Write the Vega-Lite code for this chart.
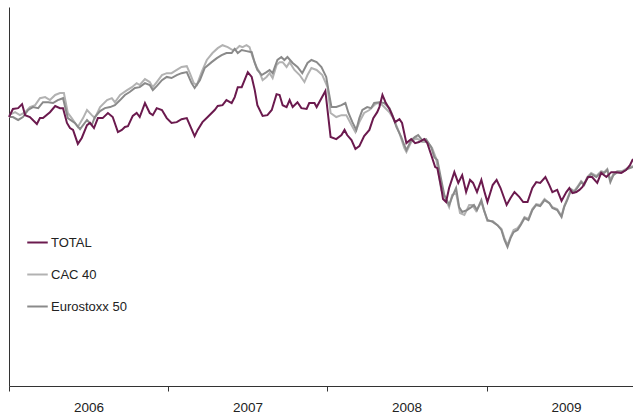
{
  "$schema": "https://vega.github.io/schema/vega-lite/v6.json",
  "width": 624,
  "height": 379,
  "autosize": "none",
  "padding": {"left": 9, "top": 7, "right": 0, "bottom": 28},
  "background": "white",
  "config": {"view": {"stroke": null}, "font": "Liberation Sans"},
  "data": {
    "format": {"parse": {"d": "date:'%Y-%j'"}},
    "values": [
      {"s":"CAC 40","d":"2006-001","v":100.7},{"s":"CAC 40","d":"2006-015","v":101.8},{"s":"CAC 40","d":"2006-026","v":100.7},{"s":"CAC 40","d":"2006-038","v":101.8},{"s":"CAC 40","d":"2006-049","v":103.7},{"s":"CAC 40","d":"2006-061","v":104.4},{"s":"CAC 40","d":"2006-072","v":107.0},{"s":"CAC 40","d":"2006-084","v":107.4},{"s":"CAC 40","d":"2006-095","v":106.3},{"s":"CAC 40","d":"2006-107","v":108.2},{"s":"CAC 40","d":"2006-118","v":108.9},{"s":"CAC 40","d":"2006-127","v":108.9},{"s":"CAC 40","d":"2006-136","v":101.5},{"s":"CAC 40","d":"2006-145","v":99.6},{"s":"CAC 40","d":"2006-159","v":96.3},{"s":"CAC 40","d":"2006-171","v":99.6},{"s":"CAC 40","d":"2006-180","v":102.6},{"s":"CAC 40","d":"2006-191","v":100.7},{"s":"CAC 40","d":"2006-198","v":99.6},{"s":"CAC 40","d":"2006-210","v":103.7},{"s":"CAC 40","d":"2006-226","v":106.3},{"s":"CAC 40","d":"2006-237","v":107.0},{"s":"CAC 40","d":"2006-244","v":105.5},{"s":"CAC 40","d":"2006-256","v":108.2},{"s":"CAC 40","d":"2006-272","v":110.0},{"s":"CAC 40","d":"2006-283","v":111.1},{"s":"CAC 40","d":"2006-294","v":112.6},{"s":"CAC 40","d":"2006-301","v":111.9},{"s":"CAC 40","d":"2006-313","v":114.1},{"s":"CAC 40","d":"2006-324","v":113.0},{"s":"CAC 40","d":"2006-331","v":111.1},{"s":"CAC 40","d":"2006-340","v":113.0},{"s":"CAC 40","d":"2006-352","v":115.6},{"s":"CAC 40","d":"2006-363","v":116.3},
      {"s":"CAC 40","d":"2007-009","v":116.3},{"s":"CAC 40","d":"2007-021","v":117.5},{"s":"CAC 40","d":"2007-032","v":118.6},{"s":"CAC 40","d":"2007-044","v":118.9},{"s":"CAC 40","d":"2007-051","v":116.3},{"s":"CAC 40","d":"2007-060","v":112.6},{"s":"CAC 40","d":"2007-067","v":111.9},{"s":"CAC 40","d":"2007-078","v":116.7},{"s":"CAC 40","d":"2007-090","v":121.2},{"s":"CAC 40","d":"2007-103","v":123.8},{"s":"CAC 40","d":"2007-115","v":125.6},{"s":"CAC 40","d":"2007-126","v":126.7},{"s":"CAC 40","d":"2007-138","v":126.0},{"s":"CAC 40","d":"2007-149","v":124.9},{"s":"CAC 40","d":"2007-158","v":125.3},{"s":"CAC 40","d":"2007-165","v":126.4},{"s":"CAC 40","d":"2007-172","v":126.0},{"s":"CAC 40","d":"2007-181","v":126.7},{"s":"CAC 40","d":"2007-188","v":126.0},{"s":"CAC 40","d":"2007-195","v":122.3},{"s":"CAC 40","d":"2007-204","v":118.6},{"s":"CAC 40","d":"2007-211","v":116.7},{"s":"CAC 40","d":"2007-218","v":113.7},{"s":"CAC 40","d":"2007-227","v":114.9},{"s":"CAC 40","d":"2007-234","v":116.3},{"s":"CAC 40","d":"2007-241","v":114.5},{"s":"CAC 40","d":"2007-250","v":119.3},{"s":"CAC 40","d":"2007-257","v":120.4},{"s":"CAC 40","d":"2007-264","v":120.4},{"s":"CAC 40","d":"2007-273","v":118.6},{"s":"CAC 40","d":"2007-280","v":120.4},{"s":"CAC 40","d":"2007-291","v":117.5},{"s":"CAC 40","d":"2007-303","v":115.6},{"s":"CAC 40","d":"2007-314","v":113.0},{"s":"CAC 40","d":"2007-321","v":115.6},{"s":"CAC 40","d":"2007-330","v":118.2},{"s":"CAC 40","d":"2007-342","v":117.5},{"s":"CAC 40","d":"2007-355","v":115.6},
      {"s":"CAC 40","d":"2008-002","v":111.1},{"s":"CAC 40","d":"2008-009","v":101.5},{"s":"CAC 40","d":"2008-022","v":100.0},{"s":"CAC 40","d":"2008-034","v":100.7},{"s":"CAC 40","d":"2008-045","v":100.7},{"s":"CAC 40","d":"2008-057","v":97.0},{"s":"CAC 40","d":"2008-066","v":94.4},{"s":"CAC 40","d":"2008-075","v":98.1},{"s":"CAC 40","d":"2008-086","v":101.5},{"s":"CAC 40","d":"2008-098","v":102.6},{"s":"CAC 40","d":"2008-109","v":104.4},{"s":"CAC 40","d":"2008-116","v":105.2},{"s":"CAC 40","d":"2008-128","v":104.4},{"s":"CAC 40","d":"2008-144","v":101.8},{"s":"CAC 40","d":"2008-155","v":98.9},{"s":"CAC 40","d":"2008-167","v":94.0},{"s":"CAC 40","d":"2008-178","v":88.5},{"s":"CAC 40","d":"2008-183","v":87.0},{"s":"CAC 40","d":"2008-194","v":90.7},{"s":"CAC 40","d":"2008-206","v":92.2},{"s":"CAC 40","d":"2008-219","v":90.7},{"s":"CAC 40","d":"2008-231","v":90.7},{"s":"CAC 40","d":"2008-242","v":88.5},{"s":"CAC 40","d":"2008-251","v":84.7},{"s":"CAC 40","d":"2008-263","v":72.9},{"s":"CAC 40","d":"2008-274","v":69.1},{"s":"CAC 40","d":"2008-281","v":66.5},{"s":"CAC 40","d":"2008-288","v":71.0},{"s":"CAC 40","d":"2008-297","v":71.7},{"s":"CAC 40","d":"2008-306","v":64.3},{"s":"CAC 40","d":"2008-316","v":63.6},{"s":"CAC 40","d":"2008-327","v":67.3},{"s":"CAC 40","d":"2008-334","v":67.3},{"s":"CAC 40","d":"2008-343","v":65.0},{"s":"CAC 40","d":"2008-355","v":68.4},{"s":"CAC 40","d":"2008-361","v":65.4},
      {"s":"CAC 40","d":"2009-003","v":61.3},{"s":"CAC 40","d":"2009-015","v":61.3},{"s":"CAC 40","d":"2009-026","v":59.8},{"s":"CAC 40","d":"2009-035","v":58.4},{"s":"CAC 40","d":"2009-042","v":55.0},{"s":"CAC 40","d":"2009-049","v":52.4},{"s":"CAC 40","d":"2009-056","v":55.4},{"s":"CAC 40","d":"2009-063","v":58.0},{"s":"CAC 40","d":"2009-072","v":58.7},{"s":"CAC 40","d":"2009-079","v":60.2},{"s":"CAC 40","d":"2009-088","v":62.8},{"s":"CAC 40","d":"2009-097","v":62.1},{"s":"CAC 40","d":"2009-106","v":65.8},{"s":"CAC 40","d":"2009-115","v":67.6},{"s":"CAC 40","d":"2009-124","v":67.3},{"s":"CAC 40","d":"2009-134","v":69.5},{"s":"CAC 40","d":"2009-145","v":68.0},{"s":"CAC 40","d":"2009-152","v":66.5},{"s":"CAC 40","d":"2009-163","v":65.8},{"s":"CAC 40","d":"2009-173","v":63.2},{"s":"CAC 40","d":"2009-179","v":66.9},{"s":"CAC 40","d":"2009-186","v":69.5},{"s":"CAC 40","d":"2009-195","v":73.2},{"s":"CAC 40","d":"2009-202","v":72.5},{"s":"CAC 40","d":"2009-209","v":74.0},{"s":"CAC 40","d":"2009-218","v":76.2},{"s":"CAC 40","d":"2009-225","v":75.1},{"s":"CAC 40","d":"2009-232","v":77.7},{"s":"CAC 40","d":"2009-241","v":79.2},{"s":"CAC 40","d":"2009-253","v":78.1},{"s":"CAC 40","d":"2009-264","v":79.9},{"s":"CAC 40","d":"2009-271","v":79.5},{"s":"CAC 40","d":"2009-278","v":80.7},{"s":"CAC 40","d":"2009-285","v":76.6},{"s":"CAC 40","d":"2009-292","v":78.8},{"s":"CAC 40","d":"2009-301","v":79.9},{"s":"CAC 40","d":"2009-312","v":79.9},{"s":"CAC 40","d":"2009-324","v":81.0},{"s":"CAC 40","d":"2009-337","v":81.8},
      {"s":"Eurostoxx 50","d":"2006-001","v":100.0},{"s":"Eurostoxx 50","d":"2006-010","v":100.0},{"s":"Eurostoxx 50","d":"2006-022","v":98.9},{"s":"Eurostoxx 50","d":"2006-033","v":100.0},{"s":"Eurostoxx 50","d":"2006-045","v":102.6},{"s":"Eurostoxx 50","d":"2006-056","v":103.7},{"s":"Eurostoxx 50","d":"2006-068","v":103.3},{"s":"Eurostoxx 50","d":"2006-079","v":105.5},{"s":"Eurostoxx 50","d":"2006-091","v":105.5},{"s":"Eurostoxx 50","d":"2006-102","v":105.2},{"s":"Eurostoxx 50","d":"2006-113","v":106.3},{"s":"Eurostoxx 50","d":"2006-125","v":107.0},{"s":"Eurostoxx 50","d":"2006-136","v":99.6},{"s":"Eurostoxx 50","d":"2006-152","v":97.8},{"s":"Eurostoxx 50","d":"2006-164","v":95.5},{"s":"Eurostoxx 50","d":"2006-180","v":98.9},{"s":"Eurostoxx 50","d":"2006-191","v":97.0},{"s":"Eurostoxx 50","d":"2006-198","v":100.0},{"s":"Eurostoxx 50","d":"2006-210","v":102.2},{"s":"Eurostoxx 50","d":"2006-221","v":103.3},{"s":"Eurostoxx 50","d":"2006-233","v":103.7},{"s":"Eurostoxx 50","d":"2006-244","v":104.4},{"s":"Eurostoxx 50","d":"2006-256","v":106.3},{"s":"Eurostoxx 50","d":"2006-267","v":108.2},{"s":"Eurostoxx 50","d":"2006-278","v":109.3},{"s":"Eurostoxx 50","d":"2006-290","v":110.8},{"s":"Eurostoxx 50","d":"2006-301","v":111.1},{"s":"Eurostoxx 50","d":"2006-313","v":112.6},{"s":"Eurostoxx 50","d":"2006-324","v":111.9},{"s":"Eurostoxx 50","d":"2006-331","v":110.0},{"s":"Eurostoxx 50","d":"2006-340","v":111.5},{"s":"Eurostoxx 50","d":"2006-352","v":113.7},{"s":"Eurostoxx 50","d":"2006-363","v":114.9},
      {"s":"Eurostoxx 50","d":"2007-009","v":114.5},{"s":"Eurostoxx 50","d":"2007-021","v":115.6},{"s":"Eurostoxx 50","d":"2007-032","v":116.3},{"s":"Eurostoxx 50","d":"2007-044","v":116.7},{"s":"Eurostoxx 50","d":"2007-055","v":112.6},{"s":"Eurostoxx 50","d":"2007-062","v":110.8},{"s":"Eurostoxx 50","d":"2007-074","v":113.7},{"s":"Eurostoxx 50","d":"2007-085","v":118.2},{"s":"Eurostoxx 50","d":"2007-101","v":120.4},{"s":"Eurostoxx 50","d":"2007-113","v":121.9},{"s":"Eurostoxx 50","d":"2007-124","v":123.0},{"s":"Eurostoxx 50","d":"2007-135","v":123.8},{"s":"Eurostoxx 50","d":"2007-147","v":123.8},{"s":"Eurostoxx 50","d":"2007-154","v":125.3},{"s":"Eurostoxx 50","d":"2007-161","v":123.8},{"s":"Eurostoxx 50","d":"2007-170","v":124.9},{"s":"Eurostoxx 50","d":"2007-181","v":124.5},{"s":"Eurostoxx 50","d":"2007-193","v":124.1},{"s":"Eurostoxx 50","d":"2007-200","v":120.1},{"s":"Eurostoxx 50","d":"2007-206","v":117.5},{"s":"Eurostoxx 50","d":"2007-216","v":115.6},{"s":"Eurostoxx 50","d":"2007-227","v":116.7},{"s":"Eurostoxx 50","d":"2007-234","v":117.5},{"s":"Eurostoxx 50","d":"2007-241","v":116.3},{"s":"Eurostoxx 50","d":"2007-252","v":121.2},{"s":"Eurostoxx 50","d":"2007-261","v":122.3},{"s":"Eurostoxx 50","d":"2007-268","v":121.2},{"s":"Eurostoxx 50","d":"2007-275","v":122.3},{"s":"Eurostoxx 50","d":"2007-287","v":120.1},{"s":"Eurostoxx 50","d":"2007-298","v":118.6},{"s":"Eurostoxx 50","d":"2007-309","v":116.3},{"s":"Eurostoxx 50","d":"2007-321","v":120.1},{"s":"Eurostoxx 50","d":"2007-330","v":121.2},{"s":"Eurostoxx 50","d":"2007-342","v":120.4},{"s":"Eurostoxx 50","d":"2007-353","v":118.6},{"s":"Eurostoxx 50","d":"2007-364","v":114.9},
      {"s":"Eurostoxx 50","d":"2008-004","v":110.0},{"s":"Eurostoxx 50","d":"2008-011","v":103.7},{"s":"Eurostoxx 50","d":"2008-022","v":103.7},{"s":"Eurostoxx 50","d":"2008-034","v":104.4},{"s":"Eurostoxx 50","d":"2008-043","v":105.2},{"s":"Eurostoxx 50","d":"2008-050","v":101.5},{"s":"Eurostoxx 50","d":"2008-059","v":98.1},{"s":"Eurostoxx 50","d":"2008-068","v":95.2},{"s":"Eurostoxx 50","d":"2008-075","v":99.6},{"s":"Eurostoxx 50","d":"2008-082","v":102.6},{"s":"Eurostoxx 50","d":"2008-093","v":103.7},{"s":"Eurostoxx 50","d":"2008-102","v":103.3},{"s":"Eurostoxx 50","d":"2008-109","v":105.2},{"s":"Eurostoxx 50","d":"2008-121","v":105.5},{"s":"Eurostoxx 50","d":"2008-132","v":105.2},{"s":"Eurostoxx 50","d":"2008-144","v":103.3},{"s":"Eurostoxx 50","d":"2008-151","v":100.7},{"s":"Eurostoxx 50","d":"2008-160","v":96.3},{"s":"Eurostoxx 50","d":"2008-171","v":92.6},{"s":"Eurostoxx 50","d":"2008-178","v":89.6},{"s":"Eurostoxx 50","d":"2008-183","v":87.7},{"s":"Eurostoxx 50","d":"2008-194","v":91.4},{"s":"Eurostoxx 50","d":"2008-203","v":92.6},{"s":"Eurostoxx 50","d":"2008-210","v":93.3},{"s":"Eurostoxx 50","d":"2008-219","v":91.4},{"s":"Eurostoxx 50","d":"2008-228","v":91.8},{"s":"Eurostoxx 50","d":"2008-240","v":88.8},{"s":"Eurostoxx 50","d":"2008-247","v":85.1},{"s":"Eurostoxx 50","d":"2008-254","v":84.0},{"s":"Eurostoxx 50","d":"2008-263","v":76.6},{"s":"Eurostoxx 50","d":"2008-270","v":71.0},{"s":"Eurostoxx 50","d":"2008-281","v":67.3},{"s":"Eurostoxx 50","d":"2008-288","v":70.3},{"s":"Eurostoxx 50","d":"2008-297","v":73.6},{"s":"Eurostoxx 50","d":"2008-304","v":66.5},{"s":"Eurostoxx 50","d":"2008-311","v":64.7},{"s":"Eurostoxx 50","d":"2008-322","v":65.4},{"s":"Eurostoxx 50","d":"2008-332","v":66.5},{"s":"Eurostoxx 50","d":"2008-338","v":67.3},{"s":"Eurostoxx 50","d":"2008-345","v":65.4},{"s":"Eurostoxx 50","d":"2008-355","v":69.1},{"s":"Eurostoxx 50","d":"2008-361","v":65.4},
      {"s":"Eurostoxx 50","d":"2009-003","v":61.7},{"s":"Eurostoxx 50","d":"2009-015","v":61.0},{"s":"Eurostoxx 50","d":"2009-026","v":59.8},{"s":"Eurostoxx 50","d":"2009-035","v":58.0},{"s":"Eurostoxx 50","d":"2009-042","v":54.3},{"s":"Eurostoxx 50","d":"2009-049","v":51.7},{"s":"Eurostoxx 50","d":"2009-056","v":55.0},{"s":"Eurostoxx 50","d":"2009-063","v":57.2},{"s":"Eurostoxx 50","d":"2009-072","v":58.0},{"s":"Eurostoxx 50","d":"2009-079","v":59.8},{"s":"Eurostoxx 50","d":"2009-088","v":62.4},{"s":"Eurostoxx 50","d":"2009-097","v":61.7},{"s":"Eurostoxx 50","d":"2009-106","v":65.4},{"s":"Eurostoxx 50","d":"2009-115","v":67.3},{"s":"Eurostoxx 50","d":"2009-124","v":66.9},{"s":"Eurostoxx 50","d":"2009-134","v":69.1},{"s":"Eurostoxx 50","d":"2009-145","v":68.0},{"s":"Eurostoxx 50","d":"2009-152","v":66.2},{"s":"Eurostoxx 50","d":"2009-163","v":65.4},{"s":"Eurostoxx 50","d":"2009-173","v":62.8},{"s":"Eurostoxx 50","d":"2009-179","v":66.5},{"s":"Eurostoxx 50","d":"2009-186","v":69.1},{"s":"Eurostoxx 50","d":"2009-195","v":72.9},{"s":"Eurostoxx 50","d":"2009-202","v":72.1},{"s":"Eurostoxx 50","d":"2009-209","v":73.6},{"s":"Eurostoxx 50","d":"2009-218","v":75.8},{"s":"Eurostoxx 50","d":"2009-225","v":74.7},{"s":"Eurostoxx 50","d":"2009-232","v":77.3},{"s":"Eurostoxx 50","d":"2009-241","v":78.8},{"s":"Eurostoxx 50","d":"2009-253","v":77.7},{"s":"Eurostoxx 50","d":"2009-264","v":79.5},{"s":"Eurostoxx 50","d":"2009-271","v":79.2},{"s":"Eurostoxx 50","d":"2009-278","v":80.3},{"s":"Eurostoxx 50","d":"2009-285","v":75.8},{"s":"Eurostoxx 50","d":"2009-292","v":78.4},{"s":"Eurostoxx 50","d":"2009-301","v":79.5},{"s":"Eurostoxx 50","d":"2009-312","v":79.5},{"s":"Eurostoxx 50","d":"2009-324","v":80.7},{"s":"Eurostoxx 50","d":"2009-337","v":81.4},
      {"s":"TOTAL","d":"2006-001","v":100.0},{"s":"TOTAL","d":"2006-010","v":103.0},{"s":"TOTAL","d":"2006-022","v":103.3},{"s":"TOTAL","d":"2006-031","v":104.8},{"s":"TOTAL","d":"2006-038","v":100.7},{"s":"TOTAL","d":"2006-049","v":100.0},{"s":"TOTAL","d":"2006-065","v":97.4},{"s":"TOTAL","d":"2006-072","v":99.6},{"s":"TOTAL","d":"2006-079","v":99.6},{"s":"TOTAL","d":"2006-095","v":101.8},{"s":"TOTAL","d":"2006-107","v":104.1},{"s":"TOTAL","d":"2006-118","v":103.3},{"s":"TOTAL","d":"2006-125","v":103.3},{"s":"TOTAL","d":"2006-134","v":97.8},{"s":"TOTAL","d":"2006-141","v":95.9},{"s":"TOTAL","d":"2006-148","v":95.2},{"s":"TOTAL","d":"2006-159","v":90.0},{"s":"TOTAL","d":"2006-168","v":92.2},{"s":"TOTAL","d":"2006-180","v":97.0},{"s":"TOTAL","d":"2006-187","v":97.8},{"s":"TOTAL","d":"2006-196","v":95.9},{"s":"TOTAL","d":"2006-205","v":99.6},{"s":"TOTAL","d":"2006-216","v":99.6},{"s":"TOTAL","d":"2006-228","v":101.5},{"s":"TOTAL","d":"2006-239","v":100.0},{"s":"TOTAL","d":"2006-251","v":94.4},{"s":"TOTAL","d":"2006-260","v":95.2},{"s":"TOTAL","d":"2006-267","v":96.3},{"s":"TOTAL","d":"2006-274","v":96.6},{"s":"TOTAL","d":"2006-285","v":100.4},{"s":"TOTAL","d":"2006-294","v":101.5},{"s":"TOTAL","d":"2006-301","v":100.0},{"s":"TOTAL","d":"2006-313","v":105.2},{"s":"TOTAL","d":"2006-324","v":101.5},{"s":"TOTAL","d":"2006-331","v":100.7},{"s":"TOTAL","d":"2006-340","v":103.3},{"s":"TOTAL","d":"2006-352","v":102.6},{"s":"TOTAL","d":"2006-363","v":99.6},
      {"s":"TOTAL","d":"2007-009","v":97.8},{"s":"TOTAL","d":"2007-021","v":98.1},{"s":"TOTAL","d":"2007-032","v":99.2},{"s":"TOTAL","d":"2007-044","v":99.6},{"s":"TOTAL","d":"2007-051","v":97.0},{"s":"TOTAL","d":"2007-062","v":92.9},{"s":"TOTAL","d":"2007-069","v":95.2},{"s":"TOTAL","d":"2007-080","v":98.1},{"s":"TOTAL","d":"2007-092","v":100.0},{"s":"TOTAL","d":"2007-108","v":102.6},{"s":"TOTAL","d":"2007-115","v":104.1},{"s":"TOTAL","d":"2007-126","v":104.4},{"s":"TOTAL","d":"2007-135","v":106.3},{"s":"TOTAL","d":"2007-147","v":105.2},{"s":"TOTAL","d":"2007-154","v":107.4},{"s":"TOTAL","d":"2007-161","v":111.1},{"s":"TOTAL","d":"2007-170","v":111.1},{"s":"TOTAL","d":"2007-184","v":116.7},{"s":"TOTAL","d":"2007-193","v":114.9},{"s":"TOTAL","d":"2007-200","v":110.0},{"s":"TOTAL","d":"2007-206","v":104.4},{"s":"TOTAL","d":"2007-218","v":100.4},{"s":"TOTAL","d":"2007-229","v":100.7},{"s":"TOTAL","d":"2007-239","v":102.6},{"s":"TOTAL","d":"2007-250","v":108.5},{"s":"TOTAL","d":"2007-257","v":108.2},{"s":"TOTAL","d":"2007-264","v":104.4},{"s":"TOTAL","d":"2007-273","v":103.7},{"s":"TOTAL","d":"2007-280","v":106.3},{"s":"TOTAL","d":"2007-287","v":103.7},{"s":"TOTAL","d":"2007-298","v":105.5},{"s":"TOTAL","d":"2007-307","v":103.3},{"s":"TOTAL","d":"2007-319","v":103.0},{"s":"TOTAL","d":"2007-325","v":105.2},{"s":"TOTAL","d":"2007-337","v":105.2},{"s":"TOTAL","d":"2007-342","v":103.7},{"s":"TOTAL","d":"2007-353","v":107.0},{"s":"TOTAL","d":"2007-362","v":109.7},
      {"s":"TOTAL","d":"2008-009","v":92.6},{"s":"TOTAL","d":"2008-022","v":91.8},{"s":"TOTAL","d":"2008-034","v":93.3},{"s":"TOTAL","d":"2008-041","v":95.2},{"s":"TOTAL","d":"2008-047","v":93.3},{"s":"TOTAL","d":"2008-057","v":91.4},{"s":"TOTAL","d":"2008-066","v":88.1},{"s":"TOTAL","d":"2008-075","v":89.2},{"s":"TOTAL","d":"2008-086","v":92.9},{"s":"TOTAL","d":"2008-098","v":95.2},{"s":"TOTAL","d":"2008-107","v":99.6},{"s":"TOTAL","d":"2008-116","v":101.8},{"s":"TOTAL","d":"2008-121","v":103.7},{"s":"TOTAL","d":"2008-128","v":108.2},{"s":"TOTAL","d":"2008-135","v":105.5},{"s":"TOTAL","d":"2008-144","v":103.0},{"s":"TOTAL","d":"2008-151","v":100.4},{"s":"TOTAL","d":"2008-157","v":98.1},{"s":"TOTAL","d":"2008-167","v":99.2},{"s":"TOTAL","d":"2008-173","v":97.8},{"s":"TOTAL","d":"2008-183","v":90.3},{"s":"TOTAL","d":"2008-194","v":91.8},{"s":"TOTAL","d":"2008-203","v":90.3},{"s":"TOTAL","d":"2008-212","v":90.7},{"s":"TOTAL","d":"2008-224","v":91.8},{"s":"TOTAL","d":"2008-231","v":90.3},{"s":"TOTAL","d":"2008-240","v":85.9},{"s":"TOTAL","d":"2008-249","v":81.4},{"s":"TOTAL","d":"2008-254","v":81.0},{"s":"TOTAL","d":"2008-263","v":73.6},{"s":"TOTAL","d":"2008-267","v":69.5},{"s":"TOTAL","d":"2008-274","v":68.4},{"s":"TOTAL","d":"2008-281","v":73.6},{"s":"TOTAL","d":"2008-293","v":79.5},{"s":"TOTAL","d":"2008-302","v":75.5},{"s":"TOTAL","d":"2008-311","v":78.4},{"s":"TOTAL","d":"2008-320","v":72.1},{"s":"TOTAL","d":"2008-329","v":76.6},{"s":"TOTAL","d":"2008-336","v":75.5},{"s":"TOTAL","d":"2008-345","v":72.1},{"s":"TOTAL","d":"2008-355","v":76.6},{"s":"TOTAL","d":"2008-363","v":71.7},
      {"s":"TOTAL","d":"2009-003","v":68.4},{"s":"TOTAL","d":"2009-015","v":74.7},{"s":"TOTAL","d":"2009-024","v":76.6},{"s":"TOTAL","d":"2009-033","v":73.6},{"s":"TOTAL","d":"2009-047","v":67.3},{"s":"TOTAL","d":"2009-056","v":69.9},{"s":"TOTAL","d":"2009-065","v":72.1},{"s":"TOTAL","d":"2009-076","v":70.3},{"s":"TOTAL","d":"2009-085","v":68.4},{"s":"TOTAL","d":"2009-095","v":68.4},{"s":"TOTAL","d":"2009-106","v":73.6},{"s":"TOTAL","d":"2009-115","v":75.8},{"s":"TOTAL","d":"2009-124","v":75.5},{"s":"TOTAL","d":"2009-136","v":77.7},{"s":"TOTAL","d":"2009-145","v":74.7},{"s":"TOTAL","d":"2009-152","v":72.1},{"s":"TOTAL","d":"2009-163","v":72.9},{"s":"TOTAL","d":"2009-173","v":68.8},{"s":"TOTAL","d":"2009-184","v":72.1},{"s":"TOTAL","d":"2009-191","v":73.6},{"s":"TOTAL","d":"2009-198","v":71.7},{"s":"TOTAL","d":"2009-207","v":72.1},{"s":"TOTAL","d":"2009-214","v":72.9},{"s":"TOTAL","d":"2009-221","v":74.0},{"s":"TOTAL","d":"2009-234","v":77.7},{"s":"TOTAL","d":"2009-243","v":77.7},{"s":"TOTAL","d":"2009-255","v":75.5},{"s":"TOTAL","d":"2009-264","v":79.2},{"s":"TOTAL","d":"2009-276","v":77.7},{"s":"TOTAL","d":"2009-287","v":79.5},{"s":"TOTAL","d":"2009-298","v":79.5},{"s":"TOTAL","d":"2009-310","v":79.2},{"s":"TOTAL","d":"2009-321","v":80.3},{"s":"TOTAL","d":"2009-330","v":82.1},{"s":"TOTAL","d":"2009-337","v":84.4}
    ]
  },
  "mark": {"type": "line", "strokeWidth": 2},
  "encoding": {
    "x": {
      "field": "d",
      "type": "temporal",
      "scale": {"domain": [{"year": 2006, "month": 1, "date": 1}, {"year": 2009, "month": 12, "date": 3}]},
      "axis": {
        "title": null,
        "format": "%Y",
        "values": [{"year": 2006, "month": 1, "date": 1}, {"year": 2007, "month": 1, "date": 1}, {"year": 2008, "month": 1, "date": 1}, {"year": 2009, "month": 1, "date": 1}],
        "grid": false,
        "domainColor": "#333333",
        "tickColor": "#333333",
        "tickSize": 5,
        "labelOffset": 79.5,
        "labelAlign": "center",
        "labelFlush": false,
        "labelOverlap": false,
        "labelPadding": 9,
        "labelFont": "Liberation Sans",
        "labelFontSize": 13.5,
        "labelColor": "#222222"
      }
    },
    "y": {
      "field": "v",
      "type": "quantitative",
      "scale": {"domain": [0, 140.9], "nice": false, "zero": false},
      "axis": {"title": null, "labels": false, "ticks": false, "grid": false, "domain": true, "domainColor": "#333333"}
    },
    "color": {
      "field": "s",
      "type": "nominal",
      "scale": {"domain": ["TOTAL", "CAC 40", "Eurostoxx 50"], "range": ["#6b1a4e", "#b2b2b2", "#8a8a8a"]},
      "legend": {
        "title": null,
        "orient": "none",
        "legendX": 17,
        "legendY": 224,
        "symbolType": "stroke",
        "symbolSize": 420,
        "symbolStrokeWidth": 2,
        "rowPadding": 13,
        "labelOffset": 2,
        "labelFont": "Liberation Sans",
        "labelFontSize": 13,
        "labelColor": "#222222"
      }
    }
  }
}
